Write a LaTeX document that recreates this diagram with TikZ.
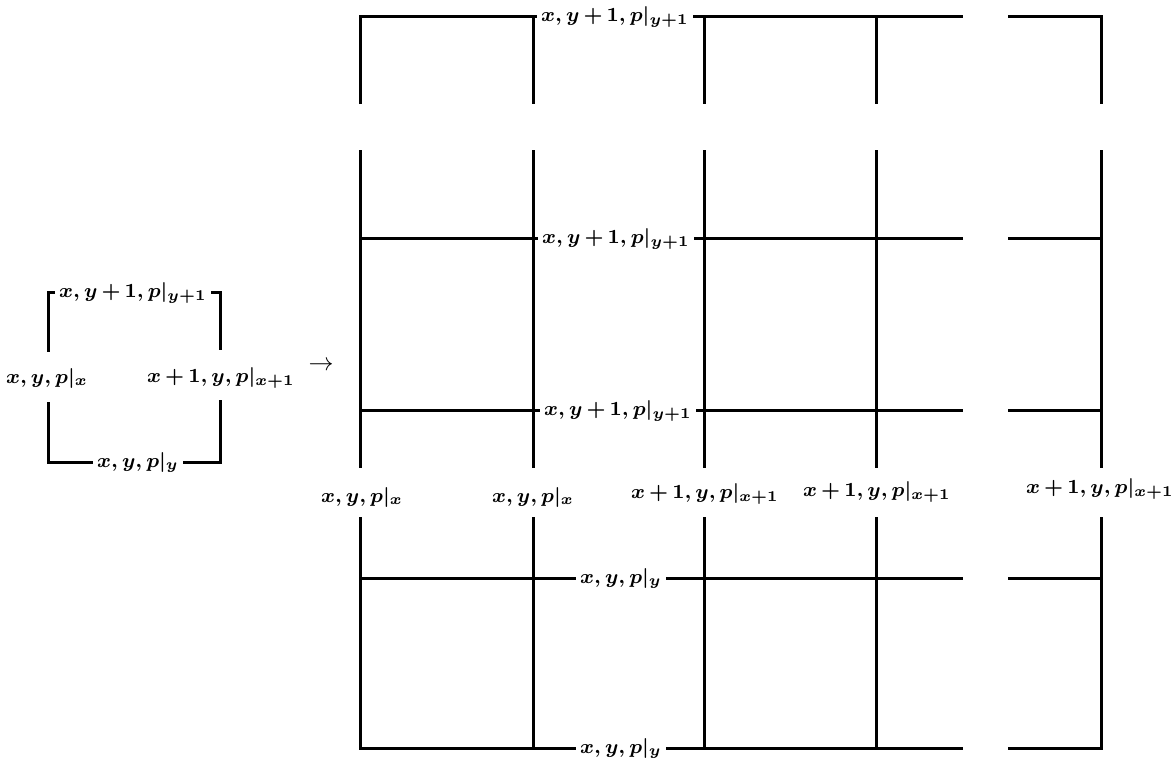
\documentclass[tikz,border=0pt]{standalone}
\usepackage{amsmath}
\newcommand{\tplus}{\mathbin{\mkern-1mu+\mkern-1mu}}
\begin{document}
\begin{tikzpicture}[x=0.4pt,y=-0.4pt,
  ln/.style={line width=1.2pt, line cap=butt},
  lab/.style={inner sep=1.5pt, font=\fontsize{8.2}{10}\selectfont\boldmath}]
\useasboundingbox (0,0) rectangle (1173,762);
% ---------- small cell on the left ----------
\node[lab, anchor=mid] (st) at (133,292) {$x,y\tplus 1,p|_{y+1}$};
\node[lab] (sl) at (47,378) {$x,y,p|_x$};
\node[lab] (sr) at (221,378) {$x\tplus 1,y,p|_{x+1}$};
\node[lab, anchor=mid] (sb) at (138,462) {$x,y,p|_y$};
\node[lab, font=\fontsize{10}{12}\selectfont] (arr) at (321,366) {$\rightarrow$};
\coordinate (stl) at (48,352);
\coordinate (str) at (220,350);
\coordinate (sbl) at (48,402);
\coordinate (sbr) at (220,400);
\draw[ln] (st.mid west) -| (stl);
\draw[ln] (st.mid east) -| (str);
\draw[ln] (sb.mid west) -| (sbl);
\draw[ln] (sb.mid east) -| (sbr);
% ---------- grid: column coordinates ----------
\foreach \i/\x in {1/360,2/533,3/704,4/876,5/1101}{
  \coordinate (t\i) at (\x,16);  \coordinate (tb\i) at (\x,104);
  \coordinate (m\i) at (\x,150); \coordinate (mb\i) at (\x,468);
  \coordinate (b\i) at (\x,517); \coordinate (bb\i) at (\x,748);
  \coordinate (A\i) at (\x,238); \coordinate (B\i) at (\x,410);
  \coordinate (C\i) at (\x,578);
}
\foreach \r/\y in {T/16,A/238,B/410,C/578,D/748}{
  \coordinate (\r e) at (963,\y);
  \coordinate (\r s) at (1008,\y);
}
% row labels
\node[lab, anchor=mid] (T) at (615,16)  {$x,y\tplus 1,p|_{y+1}$};
\node[lab, anchor=mid] (A) at (616,238) {$x,y\tplus 1,p|_{y+1}$};
\node[lab, anchor=mid] (B) at (618,410) {$x,y\tplus 1,p|_{y+1}$};
\node[lab, anchor=mid] (C) at (621,578) {$x,y,p|_y$};
\node[lab, anchor=mid] (D) at (621,748) {$x,y,p|_y$};
% column labels
\node[lab] (L1) at (362,497) {$x,y,p|_x$};
\node[lab] (L2) at (533,497) {$x,y,p|_x$};
\node[lab] (L3) at (705,494) {$x\tplus 1,y,p|_{x+1}$};
\node[lab] (L4) at (877,492) {$x\tplus 1,y,p|_{x+1}$};
\node[lab] (L5) at (1100,489) {$x\tplus 1,y,p|_{x+1}$};
% top section
\draw[ln] (tb1) |- (T.mid west);
\draw[ln] (T.mid east) -- (Te);
\draw[ln] (Ts) -| (tb5);
\foreach \i in {2,3,4}{ \draw[ln] (t\i) -- (tb\i); }
% middle section
\foreach \i in {1,...,5}{ \draw[ln] (m\i) -- (mb\i); }
\draw[ln] (A1) -- (A.mid west);
\draw[ln] (A.mid east) -- (Ae);
\draw[ln] (As) -- (A5);
\draw[ln] (B1) -- (B.mid west);
\draw[ln] (B.mid east) -- (Be);
\draw[ln] (Bs) -- (B5);
% bottom section
\foreach \i in {2,3,4}{ \draw[ln] (b\i) -- (bb\i); }
\draw[ln] (b1) |- (D.mid west);
\draw[ln] (D.mid east) -- (De);
\draw[ln] (Ds) -| (b5);
\draw[ln] (C1) -- (C.mid west);
\draw[ln] (C.mid east) -- (Ce);
\draw[ln] (Cs) -- (C5);
\end{tikzpicture}
\end{document}
